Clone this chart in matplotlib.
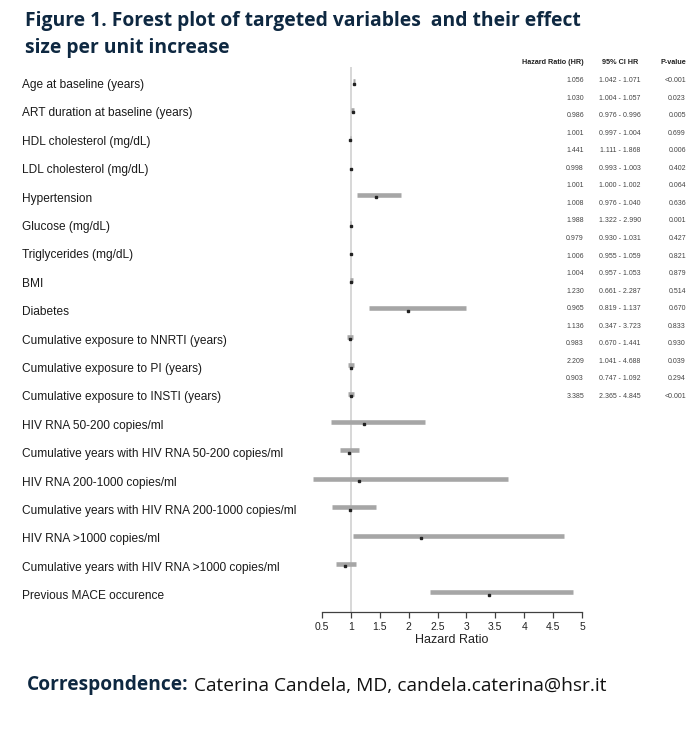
import matplotlib
matplotlib.use("Agg")
import matplotlib.pyplot as plt

labels = [
    "Age at baseline (years)",
    "ART duration at baseline (years)",
    "HDL cholesterol (mg/dL)",
    "LDL cholesterol (mg/dL)",
    "Hypertension",
    "Glucose (mg/dL)",
    "Triglycerides (mg/dL)",
    "BMI",
    "Diabetes",
    "Cumulative exposure to NNRTI (years)",
    "Cumulative exposure to PI (years)",
    "Cumulative exposure to INSTI (years)",
    "HIV RNA 50-200 copies/ml",
    "Cumulative years with HIV RNA 50-200 copies/ml",
    "HIV RNA 200-1000 copies/ml",
    "Cumulative years with HIV RNA 200-1000 copies/ml",
    "HIV RNA >1000 copies/ml",
    "Cumulative years with HIV RNA >1000 copies/ml",
    "Previous MACE occurence",
]
hr = [1.056, 1.030, 0.986, 1.001, 1.441, 0.998, 1.001, 1.008, 1.988, 0.979,
      1.006, 1.004, 1.230, 0.965, 1.136, 0.983, 2.209, 0.903, 3.385]
ci_lo = [1.042, 1.004, 0.976, 0.997, 1.111, 0.993, 1.000, 0.976, 1.322, 0.930,
         0.955, 0.957, 0.661, 0.819, 0.347, 0.670, 1.041, 0.747, 2.365]
ci_hi = [1.071, 1.057, 0.996, 1.004, 1.868, 1.003, 1.002, 1.040, 2.990, 1.031,
         1.059, 1.053, 2.287, 1.137, 3.723, 1.441, 4.688, 1.092, 4.845]
pvals = ["<0.001", "0.023", "0.005", "0.699", "0.006", "0.402", "0.064", "0.636",
         "0.001", "0.427", "0.821", "0.879", "0.514", "0.670", "0.833", "0.930",
         "0.039", "0.294", "<0.001"]
xticks = [0.5, 1, 1.5, 2, 2.5, 3, 3.5, 4, 4.5, 5]
xtick_labels = ["0.5", "1", "1.5", "2", "2.5", "3", "3.5", "4", "4.5", "5"]

W, H = 698, 745
fig = plt.figure(figsize=(W / 100, H / 100), dpi=100)
fig.patch.set_facecolor("white")

# overlay in pixel coordinates
ov = fig.add_axes([0, 0, 1, 1])
ov.set_xlim(0, W)
ov.set_ylim(H, 0)
ov.axis("off")

NAVY = "#0e2841"
TXT = "Liberation Sans"

# title
ov.text(25, 26, "Figure 1. Forest plot of targeted variables  and their effect",
        fontsize=13.9, fontweight="bold", color=NAVY, family="Open Sans",
        va="baseline", ha="left")
ov.text(25, 53, "size per unit increase",
        fontsize=13.9, fontweight="bold", color=NAVY, family="Open Sans",
        va="baseline", ha="left")

# plot axes (pixel geometry)
x0_px, x1_px = 322, 582
y_top_px, y_bot_px = 67, 612
row0_px, row_step = 83.5, 28.4
ax = fig.add_axes([x0_px / W, 1 - y_bot_px / H, (x1_px - x0_px) / W, (y_bot_px - y_top_px) / H])
ax.set_xlim(0.5, 5)
ax.set_ylim((y_bot_px - row0_px) / row_step, (y_top_px - row0_px) / row_step)
ax.patch.set_alpha(0)
for s in ["top", "left", "right"]:
    ax.spines[s].set_visible(False)
ax.spines["bottom"].set_color("#404040")
ax.spines["bottom"].set_linewidth(0.9)
ax.set_yticks([])
ax.set_xticks(xticks)
ax.set_xticklabels(xtick_labels, fontsize=7.5, family=TXT, color="#222222")
ax.tick_params(axis="x", direction="out", length=4.5, width=0.9, color="#404040", pad=3)
ax.set_xlabel("Hazard Ratio", fontsize=9, family=TXT, color="#222222", labelpad=1)

ax.axvline(1, color="#d4d4d4", lw=1.3, zorder=1)
rows = list(range(len(labels)))
ax.hlines([r - 0.08 for r in rows], ci_lo, ci_hi, color="#a6a6a6", lw=3.3,
          zorder=2, clip_on=False)
ax.plot(hr, rows, ls="none", marker="s", ms=1.5, color="#222222", zorder=3, clip_on=False)

# row labels
for i, lab in enumerate(labels):
    ov.text(22, row0_px + row_step * i + 1.5, lab, fontsize=8.6, family=TXT,
            color="#1a1a1a", va="center", ha="left")

# table
tab_row0, tab_step = 80.5, 17.55
ov.text(584, 63, "Hazard Ratio (HR)", fontsize=5.2, fontweight="bold", family=TXT,
        color="#222222", ha="right", va="center")
ov.text(620, 63, "95% CI HR", fontsize=5.2, fontweight="bold", family=TXT,
        color="#222222", ha="center", va="center")
ov.text(686, 63, "P-value", fontsize=5.2, fontweight="bold", family=TXT,
        color="#222222", ha="right", va="center")
for i in rows:
    y = tab_row0 + tab_step * i
    ov.text(584, y, f"{hr[i]:.3f}", fontsize=5, family=TXT, color="#444444",
            ha="right", va="center")
    ov.text(620, y, f"{ci_lo[i]:.3f} - {ci_hi[i]:.3f}", fontsize=5, family=TXT,
            color="#444444", ha="center", va="center")
    ov.text(686, y, pvals[i], fontsize=5, family=TXT, color="#444444",
            ha="right", va="center")

# correspondence
t1 = ov.text(27, 690, "Correspondence:", fontsize=13.8, fontweight="bold",
             family="Open Sans", color=NAVY, va="baseline", ha="left")
ov.annotate(" Caterina Candela, MD, candela.caterina@hsr.it", xy=(1, 0),
            xycoords=t1, fontsize=13.8, family="Open Sans", color="#111111",
            va="bottom", ha="left")

fig.savefig("out.png", dpi=100, facecolor="white")
